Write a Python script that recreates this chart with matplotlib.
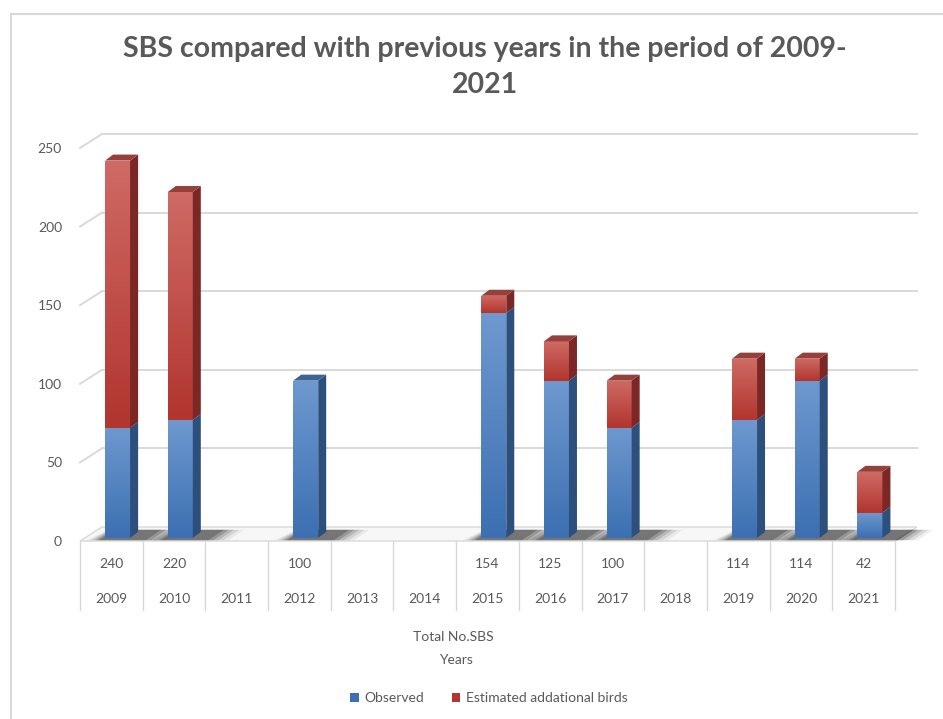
#!/usr/bin/env python3
"""SBS counts 2009-2021: stacked pseudo-3D columns with a data table underneath."""

import matplotlib
matplotlib.use("Agg")
import matplotlib.pyplot as plt
import numpy as np
from matplotlib.colors import LinearSegmentedColormap
from matplotlib.patches import Polygon, Patch
from matplotlib.transforms import blended_transform_factory

plt.rcParams["font.family"] = ["Lato", "DejaVu Sans"]

YEARS = ["2009", "2010", "2011", "2012", "2013", "2014", "2015",
         "2016", "2017", "2018", "2019", "2020", "2021"]
OBSERVED = [70, 75, 0, 100, 0, 0, 143, 100, 70, 0, 75, 100, 16]
ESTIMATED = [170, 145, 0, 0, 0, 0, 11, 25, 30, 0, 39, 14, 26]
TOTALS = ["240", "220", "", "100", "", "", "154", "125", "100", "", "114", "114", "42"]
Y_TICKS = [0, 50, 100, 150, 200, 250]

TEXT = "#595959"
GRID = "#D9D9D9"

# pixel geometry of the front plane (943x719 canvas)
W, H = 943, 719
X0_PX, X1_PX = 80, 895
Y0_PX, Y1_PX = 541, 148
PX_X = (X1_PX - X0_PX) / 13.0
PX_Y = (Y0_PX - Y1_PX) / 250.0

DX = 22 / PX_X      # back wall offset
DY = 14 / PX_Y
BAR_SHIFT = 0.1
BAR_W = 25 / PX_X
SIDE_X = 8 / PX_X
SIDE_Y = 6 / PX_Y
BASE = 2.0

COLORS = {
    "Observed": dict(light="#6E98CF", dark="#3C70B2", side="#2D4F7C", top="#3B6395"),
    "Estimated": dict(light="#CF6A64", dark="#B2352F", side="#7A2725", top="#96403C"),
}

fig = plt.figure(figsize=(W / 100, H / 100), dpi=100)
ax = fig.add_axes([X0_PX / W, 1 - Y0_PX / H, (X1_PX - X0_PX) / W, (Y0_PX - Y1_PX) / H])
ax.set_xlim(-0.5, 12.5)
ax.set_ylim(0, 250)
for s in ax.spines.values():
    s.set_visible(False)
ax.set_xticks([])
ax.set_yticks(Y_TICKS)
ax.set_yticklabels([str(v) for v in Y_TICKS], color=TEXT, fontsize=10)
ax.tick_params(axis="y", length=0, pad=13)

# outer chart border
fig.add_artist(plt.Line2D([11 / W, 11 / W], [0, 1 - 14 / H], color="#D9D9D9", lw=1.5))
fig.add_artist(plt.Line2D([11 / W, 1], [1 - 14 / H, 1 - 14 / H], color="#D9D9D9", lw=1.5))

# floor
floor = Polygon([(-0.5, 0), (12.5, 0), (12.5 + DX, DY), (-0.5 + DX, DY)],
                closed=True, facecolor="#F7F7F7", edgecolor=GRID, lw=1, zorder=1, clip_on=False)
ax.add_patch(floor)

# back wall grid
for v in Y_TICKS[1:]:
    ax.plot([-0.5, -0.5 + DX], [v, v + DY], color=GRID, lw=1.4, clip_on=False, zorder=1)
    ax.plot([-0.5 + DX, 12.5 + DX], [v + DY, v + DY], color=GRID, lw=1.4, clip_on=False, zorder=1)

x = np.arange(len(YEARS))
left = x + BAR_SHIFT - BAR_W / 2
obs = np.array(OBSERVED, dtype=float)
est = np.array(ESTIMATED, dtype=float)

# soft shadows on the floor
for i in x:
    if obs[i] + est[i] == 0:
        continue
    l = left[i]
    r = l + BAR_W
    for k, a in enumerate([0.06, 0.09, 0.13, 0.18, 0.22]):
        grow = (4 - k) * 0.08
        sh = Polygon([(l - 0.1 - grow * 0.6, 0.5), (r + 0.25 + grow, 0.5),
                      (r + 0.25 + grow + DX * 0.7, DY * 0.8), (l + DX * 0.4 - grow * 0.3, DY * 0.8)],
                     closed=True, facecolor="black", alpha=a, lw=0, zorder=2, clip_on=False)
        ax.add_patch(sh)

grad = np.linspace(0, 1, 64).reshape(-1, 1)


def draw_segment(bars, name, tops):
    c = COLORS[name]
    cmap = LinearSegmentedColormap.from_list(name, [c["dark"], c["light"]])
    for bar, is_top in zip(bars, tops):
        h = bar.get_height()
        if h <= 0:
            bar.set_visible(False)
            continue
        x0, y0 = bar.get_x(), bar.get_y()
        x1, y1 = x0 + bar.get_width(), y0 + h
        im = ax.imshow(grad, extent=[x0, x1, y0, y1], origin="lower", aspect="auto",
                       cmap=cmap, zorder=4, interpolation="bilinear")
        im.set_clip_path(bar)
        side = Polygon([(x1, y0), (x1 + SIDE_X, y0 + SIDE_Y), (x1 + SIDE_X, y1 + SIDE_Y), (x1, y1)],
                       closed=True, facecolor=c["side"], lw=0, zorder=4)
        ax.add_patch(side)
        if is_top:
            top = Polygon([(x0, y1), (x0 + SIDE_X, y1 + SIDE_Y), (x1 + SIDE_X, y1 + SIDE_Y), (x1, y1)],
                          closed=True, facecolor=c["top"], lw=0, zorder=4)
            ax.add_patch(top)


bars_obs = ax.bar(left, obs, width=BAR_W, bottom=BASE, align="edge",
                  color=COLORS["Observed"]["dark"], lw=0, zorder=3)
bars_est = ax.bar(left, est, width=BAR_W, bottom=BASE + obs, align="edge",
                  color=COLORS["Estimated"]["dark"], lw=0, zorder=3)
draw_segment(bars_obs, "Observed", est == 0)
draw_segment(bars_est, "Estimated", est > 0)
ax.set_xlim(-0.5, 12.5)
ax.set_ylim(0, 250)

# data table under the plot
tr = blended_transform_factory(ax.transData, fig.transFigure)
for b in np.arange(-0.5, 13.0, 1.0):
    ax.plot([b, b], [1 - 541 / H, 1 - 610 / H], color="#D9D9D9", lw=1, transform=tr, clip_on=False)
for i, (yr, tot) in enumerate(zip(YEARS, TOTALS)):
    ax.text(i, 1 - 564 / H, tot, transform=tr, ha="center", va="center", fontsize=10, color=TEXT)
    ax.text(i, 1 - 599 / H, yr, transform=tr, ha="center", va="center", fontsize=10, color=TEXT)

fig.text(453 / W, 1 - 637 / H, "Total No.SBS", ha="center", va="center", fontsize=10, color=TEXT)
fig.text(456 / W, 1 - 660 / H, "Years", ha="center", va="center", fontsize=10, color=TEXT)

fig.text(485 / W, 1 - 67 / H, "SBS compared with previous years in the period of 2009-\n2021",
         ha="center", va="center", fontsize=20.5, fontweight="bold", color=TEXT, linespacing=1.5)

handles = [Patch(facecolor=COLORS["Observed"]["dark"]), Patch(facecolor=COLORS["Estimated"]["dark"])]
fig.legend(handles, ["Observed", "Estimated addational birds"], loc="center",
           bbox_to_anchor=(489 / W, 1 - 698 / H), ncol=2, frameon=False, fontsize=10,
           handlelength=0.6, handleheight=0.6, handletextpad=0.4, columnspacing=2.0,
           labelcolor=TEXT)

fig.savefig("out.png", dpi=100, facecolor="white")
